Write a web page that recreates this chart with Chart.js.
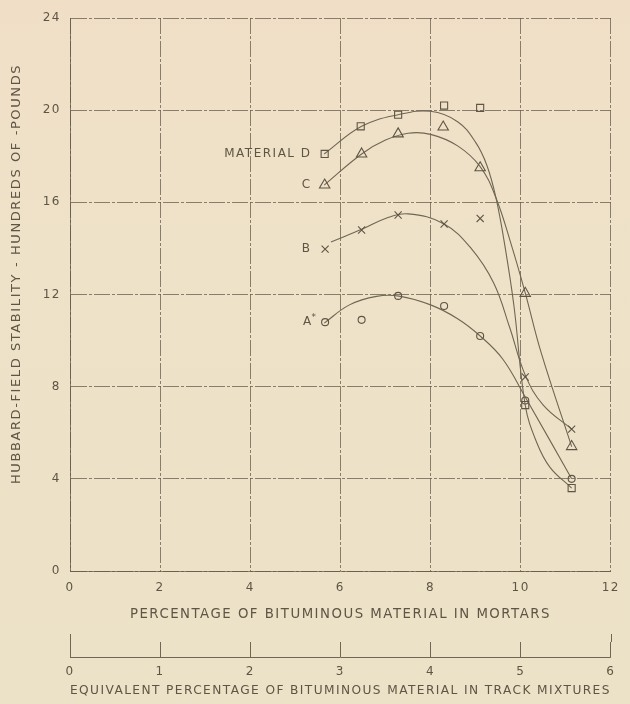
<!DOCTYPE html>
<html><head><meta charset="utf-8">
<script src="https://cdn.jsdelivr.net/npm/chart.js@4.4.0/dist/chart.umd.min.js"></script>
<style>
html,body{margin:0;padding:0;}
body{width:630px;height:704px;background:linear-gradient(180deg,#f0dfc6 0%,#eee2c8 35%,#ece2c7 100%);}
canvas{display:block;}
</style></head><body>
<canvas id="c" width="630" height="704"></canvas>
<script>
// ---- axis ticks ----
const xTicks = [0, 2, 4, 6, 8, 10, 12];
const yTicks = [0, 4, 8, 12, 16, 20, 24];
const trackTicks = [0, 1, 2, 3, 4, 5, 6];

// ---- measured points (x = % bitumen in mortar, y = stability, hundreds of lb) ----
const pointsD = [[5.65,18.1],[6.45,19.3],[7.28,19.8],[8.3,20.2],[9.1,20.1],[10.1,7.2],[11.13,3.6]];
const pointsC = [[5.65,16.75],[6.47,18.1],[7.28,18.97],[8.28,19.27],[9.1,17.5],[10.1,12.05],[11.13,5.4]];
const pointsB = [[5.66,13.97],[6.47,14.8],[7.28,15.45],[8.3,15.06],[9.1,15.3],[10.1,8.42],[11.13,6.16]];
const pointsA = [[5.66,10.8],[6.47,10.9],[7.28,11.94],[8.3,11.5],[9.1,10.2],[10.1,7.4],[11.13,4.0]];

// ---- hand-drawn fitted curves ----
const curveD = [[5.64,18.1],[6.47,19.3],[7.28,19.8],[8.0,19.95],[8.6,19.5],[9.0,18.6],[9.25,17.6],[9.45,16.2],[9.65,14.1],[9.85,11.5],[10.1,7.2],[10.35,5.6],[10.65,4.5],[11.13,3.6]];
const curveC = [[5.64,16.75],[6.47,18.1],[7.0,18.7],[7.5,19.0],[8.0,18.95],[8.6,18.45],[9.1,17.55],[9.45,16.2],[9.8,14.1],[10.1,12.07],[10.45,9.5],[11.13,5.4]];
const curveB = [[5.79,14.28],[6.5,14.85],[7.0,15.3],[7.5,15.5],[8.3,15.06],[8.9,14.0],[9.4,12.5],[9.75,10.6],[10.1,8.5],[10.5,7.2],[11.13,6.16]];
const curveA = [[5.64,10.76],[6.2,11.55],[6.8,11.92],[7.3,11.93],[8.0,11.55],[8.6,10.95],[9.1,10.2],[9.6,9.2],[10.1,7.55],[11.13,4.0]];

// ---- text ----
const xTitle = 'PERCENTAGE OF BITUMINOUS MATERIAL IN MORTARS';
const x2Title = 'EQUIVALENT PERCENTAGE OF BITUMINOUS MATERIAL IN TRACK MIXTURES';
const yTitle = 'HUBBARD-FIELD STABILITY - HUNDREDS OF -POUNDS';
const curveLabels = ['MATERIAL D', 'C', 'B', 'A'];

const INK = '#5e5545';
const LINE = '#6f6654';
const GRID = 'rgba(95,86,70,0.72)';
const FONT = "'DejaVu Sans', 'Liberation Sans', sans-serif";

const toXY = arr => arr.map(p => ({x: p[0], y: p[1]}));

function markerSet(pts, style, r) {
  return {data: toXY(pts), showLine: false, pointStyle: style, pointRadius: r, pointHoverRadius: r,
    pointBorderColor: INK, pointBackgroundColor: 'rgba(0,0,0,0)', pointBorderWidth: 1.1, order: 0};
}
function curveSet(pts) {
  return {data: toXY(pts), showLine: true, pointRadius: 0, borderColor: LINE, borderWidth: 1.1,
    tension: 0.4, fill: false, order: 1};
}

const spacing = {
  id: 'spacing',
  beforeUpdate(chart) { chart.ctx.letterSpacing = '1.5px'; },
  beforeDraw(chart) { chart.ctx.letterSpacing = '1.5px'; }
};

const extras = {
  id: 'extras',
  afterDraw(chart) {
    const ctx = chart.ctx;
    const xs = chart.scales.x, ys = chart.scales.y, x2 = chart.scales.x2;
    ctx.save();
    // baseline of the track-mixture scale, with taller end ticks
    ctx.strokeStyle = LINE; ctx.lineWidth = 1;
    const by = Math.round(x2.top + 15) + 0.5;
    ctx.beginPath(); ctx.moveTo(x2.left, by); ctx.lineTo(x2.right, by);
    [trackTicks[0], trackTicks[trackTicks.length - 1]].forEach(v => {
      const px = Math.round(x2.getPixelForValue(v)) + 0.5;
      ctx.moveTo(px, x2.top - 8); ctx.lineTo(px, x2.top);
    });
    ctx.stroke();
    // y title
    ctx.fillStyle = INK;
    ctx.font = "13px " + FONT;
    ctx.letterSpacing = '1.6px';
    ctx.textAlign = 'center'; ctx.textBaseline = 'middle';
    ctx.translate(17, 274); ctx.rotate(-Math.PI / 2);
    ctx.fillText(yTitle, 0, 0);
    ctx.restore();

    // curve labels, right aligned just left of first marker
    ctx.save();
    ctx.fillStyle = INK;
    ctx.font = "12px " + FONT;
    ctx.letterSpacing = '1.5px';
    ctx.textAlign = 'right'; ctx.textBaseline = 'middle';
    const firsts = [pointsD[0], pointsC[0], pointsB[0], pointsA[0]];
    const lx = xs.getPixelForValue(5.36);
    curveLabels.forEach((t, i) => {
      const py = ys.getPixelForValue(firsts[i][1]);
      if (t === 'A') {
        ctx.font = "9px " + FONT;
        ctx.fillText('*', lx + 6, py - 4);
        ctx.font = "12px " + FONT;
        ctx.fillText(t, lx + 1, py);
      } else {
        ctx.fillText(t, lx, py);
      }
    });
    ctx.restore();
  }
};

new Chart(document.getElementById('c'), {
  type: 'scatter',
  data: {
    datasets: [
      curveSet(curveD), curveSet(curveC), curveSet(curveB), curveSet(curveA),
      markerSet(pointsD, 'rect', 5),
      markerSet(pointsC, 'triangle', 6),
      markerSet(pointsB, 'crossRot', 5),
      markerSet(pointsA, 'circle', 3.5)
    ]
  },
  options: {
    responsive: false,
    animation: false,
    layout: {padding: {top: 18, right: 10, left: 0, bottom: 0}},
    plugins: {legend: {display: false}, tooltip: {enabled: false}},
    scales: {
      x: {
        type: 'linear', position: 'bottom', min: 0, max: 12,
        afterBuildTicks: s => { s.ticks = xTicks.map(v => ({value: v})); },
        afterFit: s => { s.height = 71; },
        grid: {color: GRID, lineWidth: 1, drawTicks: false},
        border: {display: true, color: GRID, width: 1, dash: [16, 2, 3, 2]},
        ticks: {color: INK, padding: 10, font: {family: FONT, size: 12}},
        title: {display: true, text: xTitle, color: INK, font: {family: FONT, size: 13.3}, padding: {top: 0, bottom: 19}}
      },
      x2: {
        type: 'linear', position: 'bottom', min: 0, max: 6,
        afterBuildTicks: s => { s.ticks = trackTicks.map(v => ({value: v})); },
        afterFit: s => { s.height = 62; },
        grid: {drawOnChartArea: false, drawTicks: true, tickLength: 15, color: LINE, tickColor: LINE},
        border: {display: false},
        ticks: {color: INK, padding: 8, font: {family: FONT, size: 12}},
        title: {display: true, text: x2Title, color: INK, font: {family: FONT, size: 13}, padding: {top: 0, bottom: 6}}
      },
      y: {
        type: 'linear', position: 'left', min: 0, max: 24,
        afterBuildTicks: s => { s.ticks = yTicks.map(v => ({value: v})); },
        afterFit: s => { s.width = 70; },
        grid: {color: GRID, lineWidth: 1, drawTicks: false},
        border: {display: true, color: GRID, width: 1, dash: [16, 2, 3, 2]},
        ticks: {color: INK, padding: 9, font: {family: FONT, size: 12}}
      }
    }
  },
  plugins: [spacing, extras]
});
</script>
</body></html>
